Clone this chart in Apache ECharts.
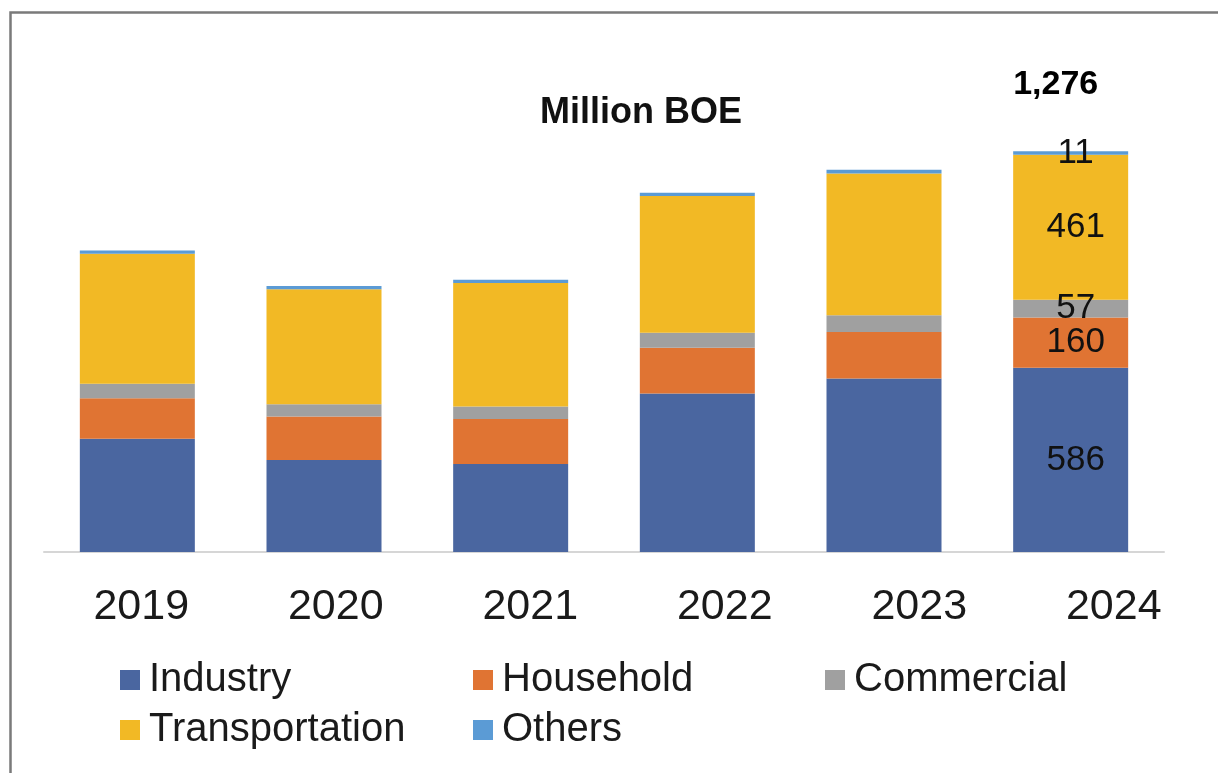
<!DOCTYPE html>
<html>
<head>
<meta charset="utf-8">
<script src="https://cdn.jsdelivr.net/npm/echarts@6/dist/echarts.min.js"></script>
<style>html,body{margin:0;padding:0;background:#fff;}#c{width:1218px;height:773px;}</style>
</head>
<body>
<div id="c"></div>
<script>
const years = ['2019', '2020', '2021', '2022', '2023', '2024'];
const industry = [360, 293, 280, 504, 552, 586];
const household = [129, 138, 143, 146, 148, 160];
const commercial = [46, 39, 40, 48, 53, 57];
const transportation = [414, 366, 393, 435, 451, 461];
const others = [10, 10, 10, 10, 12, 11];
const totals = [960, 847, 866, 1143, 1220, 1276];
const totalLabels = ['', '', '', '', '', '1,276'];
const title = 'Million BOE';

const FONT = '"Liberation Sans", Arial, sans-serif';
const last = years.length - 1;

function mk(name, arr, color) {
  return {
    name: name, type: 'bar', stack: 'a', barWidth: 115,
    xAxisIndex: 0, yAxisIndex: 0,
    itemStyle: { color: color },
    data: arr.map((v, i) => i === last ? {
      value: v,
      label: { show: true, position: 'inside', offset: [5, 0], color: '#111', fontFamily: FONT, fontSize: 35 }
    } : v),
    emphasis: { disabled: true }
  };
}

const legendItem = (name, left, top) => ({
  data: [name], left: left, top: top, orient: 'horizontal',
  itemWidth: 20, itemHeight: 20, icon: 'rect',
  textStyle: { fontFamily: FONT, fontSize: 40, color: '#1a1a1a', padding: [0, 0, 0, 4] },
  selectedMode: false
});

const chart = echarts.init(document.getElementById('c'), null, { renderer: 'canvas' });
chart.setOption({
  animation: false,
  backgroundColor: '#ffffff',
  title: {
    text: title, left: 636, top: 90, textAlign: 'center',
    textStyle: { fontFamily: FONT, fontSize: 36, fontWeight: 'bold', color: '#111' }
  },
  graphic: [{
    type: 'rect', left: 8, top: 10,
    shape: { width: 1400, height: 1000 },
    style: { fill: 'none', stroke: '#7a7a7a', lineWidth: 2.5 }, silent: true, z: 100
  }],
  legend: [
    legendItem('Industry', 115, 655),
    legendItem('Household', 468, 655),
    legendItem('Commercial', 820, 655),
    legendItem('Transportation', 115, 705),
    legendItem('Others', 468, 705)
  ],
  grid: [
    { left: 44, right: 54, top: 112, bottom: 221 },
    { left: 44, right: 7, top: 112, bottom: 221 }
  ],
  xAxis: [
    {
      type: 'category', data: years, gridIndex: 0,
      axisLine: { show: true, lineStyle: { color: '#d6d6d6', width: 2 } },
      axisTick: { show: false }, axisLabel: { show: false }
    },
    {
      type: 'category', data: years, gridIndex: 1,
      axisLine: { show: false }, axisTick: { show: false },
      axisLabel: { show: true, margin: 34, fontFamily: FONT, fontSize: 43, color: '#1a1a1a', lineHeight: 43 }
    }
  ],
  yAxis: [
    { type: 'value', min: 0, max: 1400, gridIndex: 0, show: false, splitLine: { show: false } },
    { type: 'value', min: 0, max: 1400, gridIndex: 1, show: false, splitLine: { show: false } }
  ],
  series: [
    mk('Industry', industry, '#4a66a0'),
    mk('Household', household, '#e07433'),
    mk('Commercial', commercial, '#a0a0a0'),
    mk('Transportation', transportation, '#f2b925'),
    mk('Others', others, '#5b9bd5'),
    {
      name: 'Total', type: 'scatter', xAxisIndex: 0, yAxisIndex: 0,
      symbol: 'circle', symbolSize: 2, itemStyle: { color: 'rgba(255,255,255,0)' },
      data: totals, z: 10,
      label: {
        show: true, position: [-14, -65], align: 'center', verticalAlign: 'middle',
        formatter: p => totalLabels[p.dataIndex],
        fontFamily: FONT, fontSize: 34, fontWeight: 'bold', color: '#000',
        opacity: 1, textBorderWidth: 0
      },
      labelLayout: { hideOverlap: false },
      emphasis: { disabled: true }
    }
  ]
});
</script>
</body>
</html>
